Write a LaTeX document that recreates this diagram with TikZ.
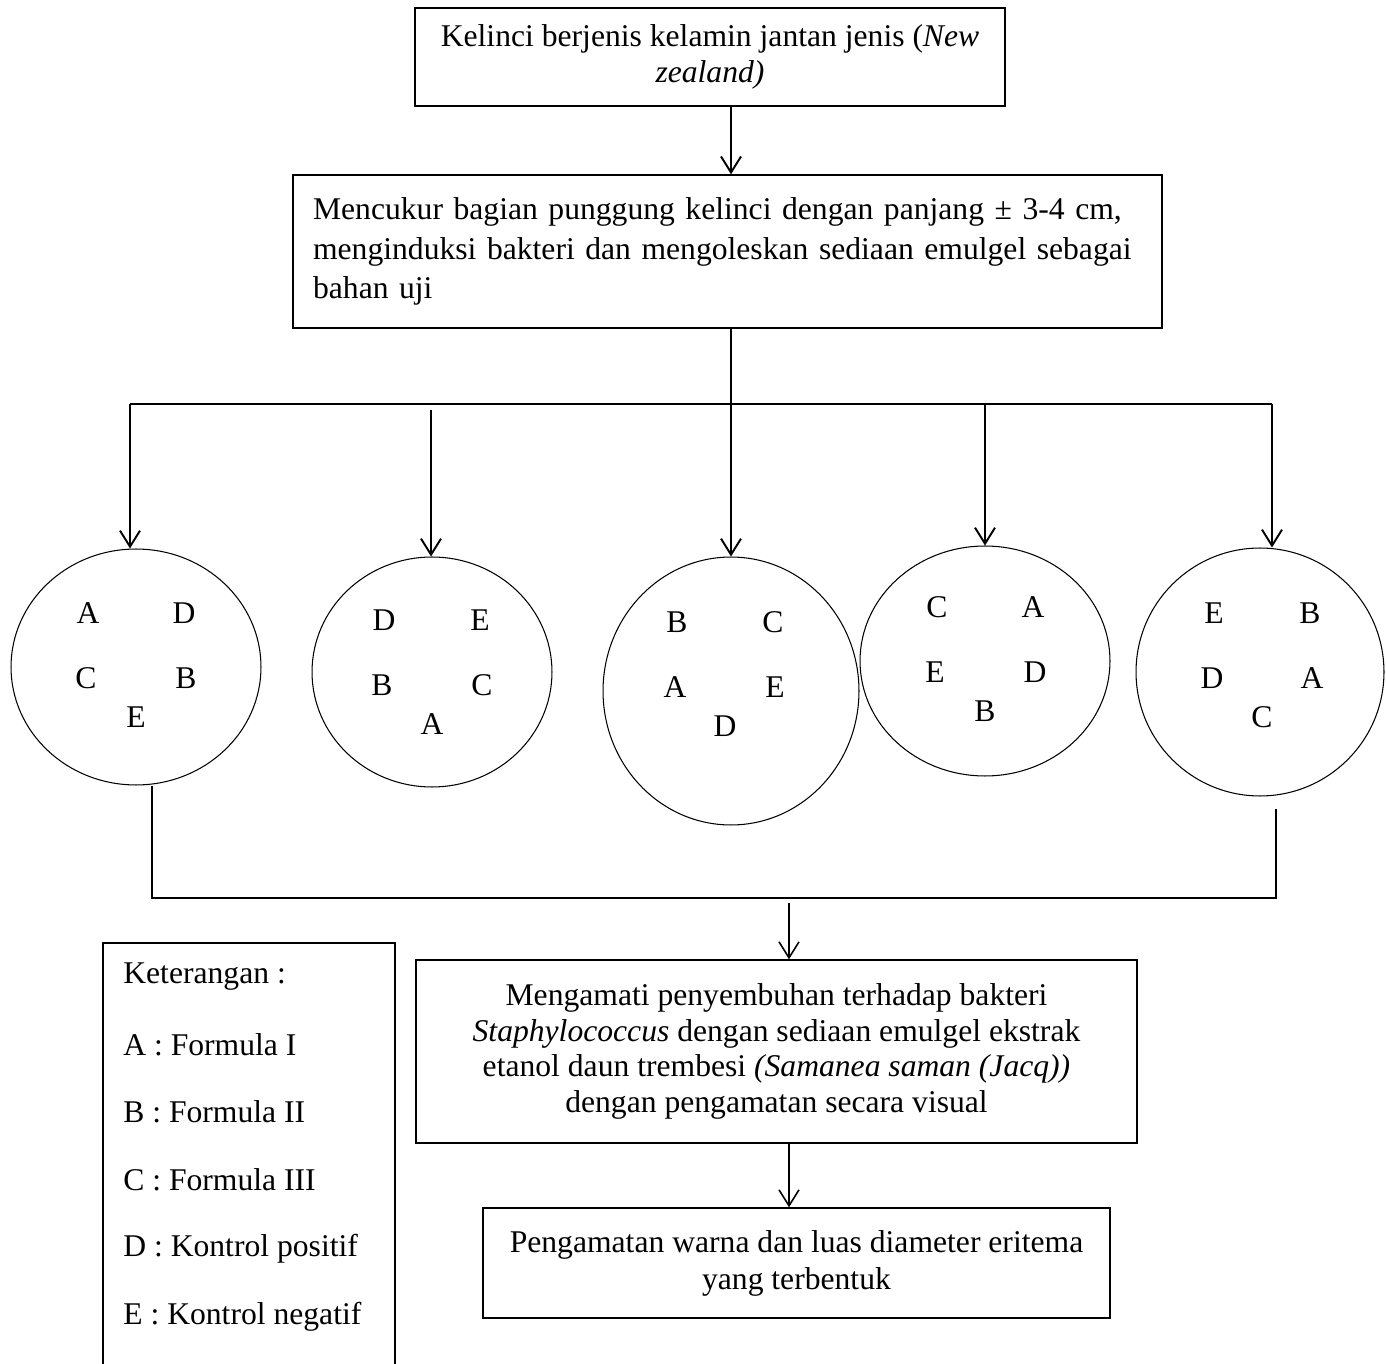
\documentclass[tikz,border=0pt]{standalone}
\usepackage{fontspec}
\setmainfont{Liberation Serif}
\usetikzlibrary{arrows.meta}
\usetikzlibrary{shapes.geometric}

\begin{document}
\begin{tikzpicture}[%%
  x=0.02cm,y=-0.02cm,%%
  font=\fontsize{18}{22}\selectfont,%%
  lineStyle/.style={-,line width=1.2pt},%%
  arrowStyle/.style={-{Straight Barb[length=0.32cm,width=0.4cm]},line width=1.1pt},%%
  thinArrowStyle/.style={arrowStyle,line width=0.9pt},%%
  boxStyle/.style={draw,line width=0.8pt,rectangle,inner sep=0pt},%%
  plateStyle/.style={draw,line width=0.6pt,ellipse,inner sep=0pt},%%
  letterStyle/.style={inner sep=0pt}%%
]
%%
\useasboundingbox (0,0) rectangle (1386,1364);
%%
%% The two boxes at the top.
\node[boxStyle,minimum width=11.8cm,minimum height=1.96cm,align=center,
  font=\fontsize{18}{20.4}\selectfont] (kelinci) at (710,57)
  {Kelinci berjenis kelamin jantan jenis (\textit{New}\\\textit{zealand)}};
\node[boxStyle,minimum width=17.38cm,minimum height=3.06cm,inner xsep=0.4cm,
  text width=16.58cm,align=left,font=\fontsize{18}{22.7}\selectfont] (cukur) at (727.5,251.5)
  {Mencukur bagian punggung kelinci dengan panjang ± 3-4 cm,\\
   menginduksi bakteri dan mengoleskan sediaan emulgel sebagai\\
   bahan uji};
%%
%% The five plates.
\node[plateStyle,minimum width=5cm,minimum height=4.72cm] (e1) at (136,667) {};
\node[plateStyle,minimum width=4.8cm,minimum height=4.6cm] (e2) at (432,672) {};
\node[plateStyle,minimum width=5.12cm,minimum height=5.36cm] (e3) at (731,691) {};
\node[plateStyle,minimum width=5cm,minimum height=4.6cm] (e4) at (985,661) {};
\node[plateStyle,minimum width=4.96cm,minimum height=4.96cm] (e5) at (1260,672) {};
%%
%% Letters of the first plate.
\node[letterStyle] (e1A) at (88,613) {A};
\node[letterStyle] (e1D) at (184,613) {D};
\node[letterStyle] (e1C) at (86,678) {C};
\node[letterStyle] (e1B) at (186,678) {B};
\node[letterStyle] (e1E) at (136,717) {E};
%% Letters of the second plate.
\node[letterStyle] (e2D) at (384,620) {D};
\node[letterStyle] (e2E) at (480,620) {E};
\node[letterStyle] (e2B) at (382,685) {B};
\node[letterStyle] (e2C) at (482,685) {C};
\node[letterStyle] (e2A) at (432,724) {A};
%% Letters of the third plate.
\node[letterStyle] (e3B) at (677,622) {B};
\node[letterStyle] (e3C) at (773,622) {C};
\node[letterStyle] (e3A) at (675,687) {A};
\node[letterStyle] (e3E) at (775,687) {E};
\node[letterStyle] (e3D) at (725,726) {D};
%% Letters of the fourth plate.
\node[letterStyle] (e4C) at (937,607) {C};
\node[letterStyle] (e4A) at (1033,607) {A};
\node[letterStyle] (e4E) at (935,672) {E};
\node[letterStyle] (e4D) at (1035,672) {D};
\node[letterStyle] (e4B) at (985,711) {B};
%% Letters of the fifth plate.
\node[letterStyle] (e5E) at (1214,613) {E};
\node[letterStyle] (e5B) at (1310,613) {B};
\node[letterStyle] (e5D) at (1212,678) {D};
\node[letterStyle] (e5A) at (1312,678) {A};
\node[letterStyle] (e5C) at (1262,717) {C};
%%
%% The two boxes at the bottom.
\node[boxStyle,minimum width=14.42cm,minimum height=3.66cm,align=center,
  font=\fontsize{18}{20.4}\selectfont] (amati) at (776.5,1051.5)
  {Mengamati penyembuhan terhadap bakteri\\
   \textit{Staphylococcus} dengan sediaan emulgel ekstrak\\
   etanol daun trembesi \textit{(Samanea saman (Jacq))}\\
   dengan pengamatan secara visual};
\node[boxStyle,minimum width=12.54cm,minimum height=2.2cm,align=center,
  font=\fontsize{18}{21}\selectfont] (eritema) at (796.5,1263)
  {Pengamatan warna dan luas diameter eritema\\yang terbentuk};
%%
%% Legend, open at the bottom.
\draw[line width=0.8pt] (103,1364) |- (395,943) -- (395,1364);
\node[letterStyle,anchor=west] (ket) at (123,977) {Keterangan :};
\node[letterStyle,anchor=west] (ketA) at (123,1045) {A : Formula I};
\node[letterStyle,anchor=west] (ketB) at (123,1112) {B : Formula II};
\node[letterStyle,anchor=west] (ketC) at (123,1180) {C : Formula III};
\node[letterStyle,anchor=west] (ketD) at (123,1249) {D : Kontrol positif};
\node[letterStyle,anchor=west] (ketE) at (123,1317) {E : Kontrol negatif};
%%
%% Arrows from the top boxes to the plates.
\coordinate (barL) at (130,404);
\coordinate (barR) at (1272,404);
\coordinate (startB) at (431,410);
\draw[arrowStyle] (kelinci.south -| e3.north) -- (cukur.north -| e3.north);
\draw[arrowStyle] (cukur.south -| e3.north) -- (e3.north);
\draw[lineStyle] (barL) -- (barR);
\draw[arrowStyle] (barL) -- (barL |- e1.north);
\draw[arrowStyle] (startB) -- (startB |- e2.north);
\draw[arrowStyle] (e4.north |- barL) -- (e4.north);
\draw[arrowStyle] (barR) -- (barR |- e5.north);
%%
%% Joining the plates again.
\coordinate (joinL) at (152,898);
\coordinate (joinR) at (1276,898);
\coordinate (gapR) at (1276,809);
\coordinate (downC) at (789,903);
\draw[lineStyle] (e1.south -| joinL) -- (joinL) -- (joinR) -- (gapR);
\draw[thinArrowStyle] (downC) -- (downC |- amati.north);
\draw[thinArrowStyle] (amati.south -| downC) -- (eritema.north -| downC);
\end{tikzpicture}
\end{document}
